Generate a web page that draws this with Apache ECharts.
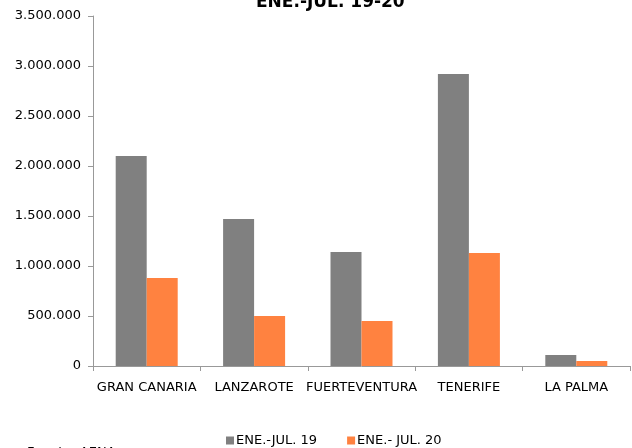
<!DOCTYPE html>
<html><head><meta charset="utf-8">
<script src="https://cdn.jsdelivr.net/npm/echarts@6/dist/echarts.min.js"></script>
<style>html,body{margin:0;padding:0;background:#fff}#c{width:632px;height:448px}</style>
</head><body><div id="c"></div>
<script>
const categories = ['GRAN CANARIA','LANZAROTE','FUERTEVENTURA','TENERIFE','LA PALMA'];
const seriesNames = ['ENE.-JUL. 19','ENE.- JUL. 20'];
const values19 = [2100000, 1470000, 1140000, 2920000, 110000];
const values20 = [880000, 500000, 450000, 1130000, 50000];
const yTicks = [0, 500000, 1000000, 1500000, 2000000, 2500000, 3000000, 3500000];
const titleText = 'ENE.-JUL. 19-20';
const sourceText = 'Fuente: AENA';

function fmt(v){ return String(v).replace(/\B(?=(\d{3})+(?!\d))/g, '.'); }
const font = 'DejaVu Sans';
const chart = echarts.init(document.getElementById('c'));
chart.setOption({
  animation: false,
  textStyle: {fontFamily: font},
  title: [{text: titleText, left: 251, top: -11, textStyle: {fontFamily: font, fontSize: 17, fontWeight: 'bold', color: '#000'}},
          {text: sourceText, left: 22, top: 441, textStyle: {fontFamily: font, fontSize: 13, fontWeight: 'normal', color: '#000'}}],
  legend: {top: 429, left: 221, itemWidth: 8, itemHeight: 8, itemGap: 30, icon: 'rect',
    textStyle: {fontFamily: font, fontSize: 13, color: '#000', padding: [0,0,0,-3]},
    data: seriesNames},
  grid: {left: 93, right: 2, top: 16, bottom: 82, containLabel: false},
  xAxis: {type: 'category', data: categories,
    axisLine: {lineStyle: {color: '#999'}},
    axisTick: {show: true, length: 5, lineStyle: {color: '#999'}},
    axisLabel: {color: '#000', fontSize: 13, margin: 15, fontFamily: font, interval: 0}},
  yAxis: {type: 'value', min: 0, max: 3500000, interval: 500000,
    axisLine: {show: true, lineStyle: {color: '#999'}},
    axisTick: {show: true, length: 5, lineStyle: {color: '#999'}},
    splitLine: {show: false},
    axisLabel: {color: '#000', fontSize: 13, margin: 12, fontFamily: font, formatter: v => fmt(v)}},
  series: [
    {name: seriesNames[0], type: 'bar', data: values19, barWidth: 31, barGap: '0%', itemStyle: {color: '#808080'}},
    {name: seriesNames[1], type: 'bar', data: values20, barWidth: 31, barGap: '0%', itemStyle: {color: '#ff8240'}}
  ]
});
</script></body></html>
